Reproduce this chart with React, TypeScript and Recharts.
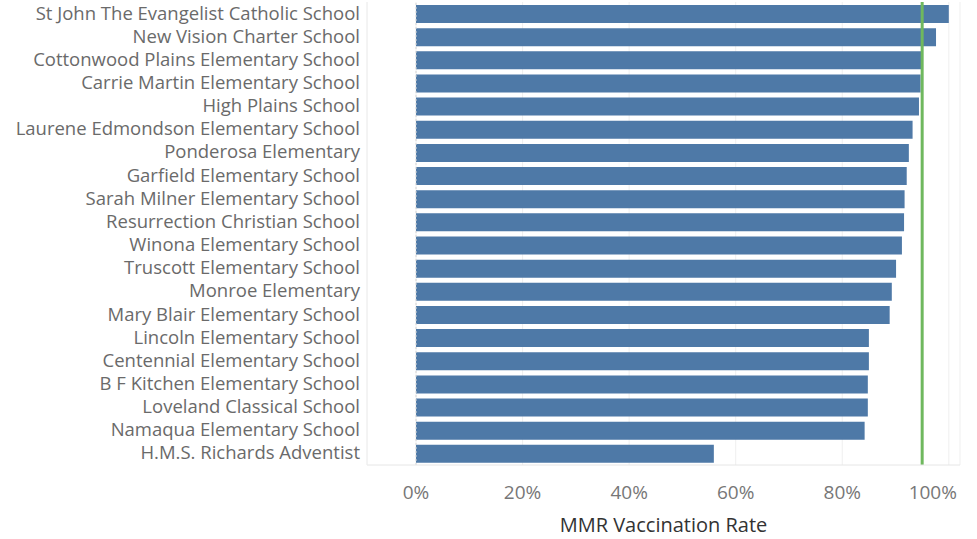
import React from "react";
import { BarChart, Bar, XAxis, YAxis, CartesianGrid, ReferenceLine } from "recharts";

// Schools, top to bottom
const schools = [
  "St John The Evangelist Catholic School",
  "New Vision Charter School",
  "Cottonwood Plains Elementary School",
  "Carrie Martin Elementary School",
  "High Plains School",
  "Laurene Edmondson Elementary School",
  "Ponderosa Elementary",
  "Garfield Elementary School",
  "Sarah Milner Elementary School",
  "Resurrection Christian School",
  "Winona Elementary School",
  "Truscott Elementary School",
  "Monroe Elementary",
  "Mary Blair Elementary School",
  "Lincoln Elementary School",
  "Centennial Elementary School",
  "B F Kitchen Elementary School",
  "Loveland Classical School",
  "Namaqua Elementary School",
  "H.M.S. Richards Adventist",
];

// MMR vaccination rate (fraction)
const rates = [
  1.0, 0.976, 0.949, 0.947, 0.944, 0.932, 0.925, 0.921, 0.917, 0.916,
  0.912, 0.901, 0.893, 0.889, 0.85, 0.85, 0.848, 0.848, 0.842, 0.559,
];

const xTicks = [0, 0.2, 0.4, 0.6, 0.8, 1.0];
const herdThreshold = 0.95;

const data = schools.map((school, i) => ({ school, rate: rates[i] }));

const FONT = "'Open Sans', sans-serif";

const YTick = (props: any) => {
  const { x, y, payload } = props;
  return (
    <text x={x} y={y} dy={6} textAnchor="end" fontFamily={FONT} fontSize={18.5} fill="#6a6a6a">
      {payload.value}
    </text>
  );
};

const XTick = (props: any) => {
  const { x, y, payload } = props;
  const shift = payload.value === 1 ? -16 : 0;
  return (
    <text x={x + shift} y={y} dy={26} textAnchor="middle" fontFamily={FONT} fontSize={19} fill="#777">
      {`${Math.round(payload.value * 100)}%`}
    </text>
  );
};

export default function App() {
  return (
    <div style={{ position: "absolute", left: 0, top: 0, background: "#fff" }}>
      <BarChart
        width={977}
        height={539}
        data={data}
        layout="vertical"
        margin={{ top: 2, right: 17, left: 0, bottom: 0 }}
      >
        <CartesianGrid horizontal={false} stroke="#efefef" />
        <XAxis
          type="number"
          domain={[-0.092, 1.021]}
          ticks={xTicks}
          allowDataOverflow
          axisLine={{ stroke: "#e6e6e6" }}
          tickLine={false}
          tick={<XTick />}
          label={{
            value: "MMR Vaccination Rate",
            position: "insideBottom",
            offset: 0,
            dy: -7,
            style: { fontFamily: FONT, fontSize: 20, fill: "#333" },
          }}
          height={74}
        />
        <YAxis
          type="category"
          dataKey="school"
          width={367}
          axisLine={{ stroke: "#f0f0f0" }}
          tickLine={false}
          tickMargin={1}
          tick={<YTick />}
          interval={0}
        />
        <ReferenceLine x={0} stroke="#d6d6d6" strokeDasharray="2 2" />
        <Bar dataKey="rate" fill="#4e79a7" barSize={18} isAnimationActive={false} />
        <ReferenceLine x={herdThreshold} stroke="#6fb85e" strokeWidth={3} />
      </BarChart>
    </div>
  );
}
